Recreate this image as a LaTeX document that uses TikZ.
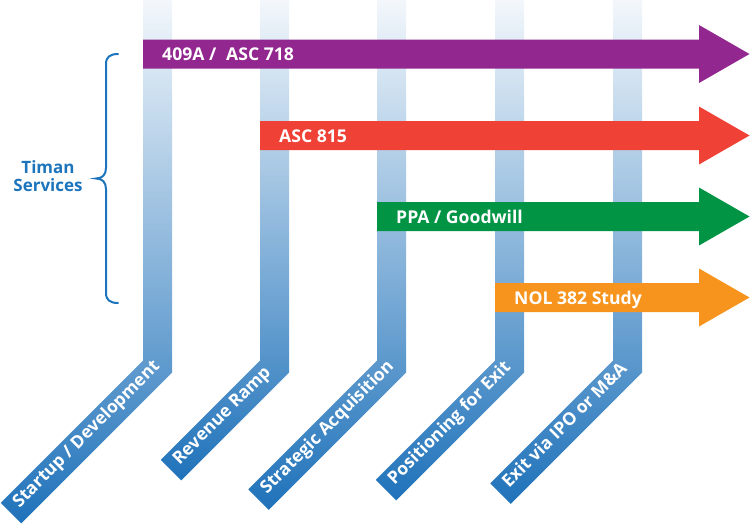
\documentclass[tikz,border=0pt]{standalone}
\usepackage{fontspec}
\setmainfont{Open Sans}
\usetikzlibrary{calc}
\definecolor{cpurple}{HTML}{92278F}
\definecolor{cred}{HTML}{EF4136}
\definecolor{cgreen}{HTML}{009444}
\definecolor{corange}{HTML}{F7941D}
\definecolor{cblue}{HTML}{1C75BC}
\definecolor{ptop}{HTML}{F3F7FB}
\definecolor{pmid}{HTML}{A3C6E5}
\definecolor{pbot}{HTML}{1F72BA}
\tikzset{
  pillarshade/.style={top color=ptop, middle color=pmid, bottom color=pbot},
  steplabel/.style={text=white, font=\fontsize{17.5}{20}\selectfont\bfseries, inner sep=0pt, rotate=45},
  arrowlabel/.style={text=white, font=\fontsize{17.6}{20}\selectfont\bfseries, inner sep=0pt, anchor=base west},
  bracetext/.style={text=cblue, font=\fontsize{17}{20}\selectfont\bfseries, inner sep=0pt, anchor=base},
  bracestyle/.style={draw=cblue, line width=2pt, line cap=round},
}
\newcommand{\pillarstep}[4]{%
  \pgfmathsetmacro{\pilL}{#2-14.5}%
  \pgfmathsetmacro{\pilR}{#2+14.5}%
  \pgfmathsetmacro{\pilEx}{#2-#3}%
  \pgfmathsetmacro{\pilEy}{366.5+#3}%
  \shade[pillarshade] (\pilL,0) -- (\pilL,360.5) -- (\pilEx-10.25,\pilEy-10.25) -- (\pilEx+10.25,\pilEy+10.25) -- (\pilR,372.5) -- (\pilR,0) -- cycle;
  \node[steplabel, anchor=mid west] (#1) at (\pilEx+6.5,\pilEy-6.5) {#4};
}
\newcommand{\bandarrow}[5]{% name, x0, yc, color, label
  \fill[#4] (#2,#3-14.5) -- (699,#3-14.5) -- (699,#3-29) -- (749.5,#3) -- (699,#3+29) -- (699,#3+14.5) -- (#2,#3+14.5) -- cycle;
  \node[arrowlabel] (#1) at (#2+19,#3+6.5) {#5};
}
\begin{document}
\begin{tikzpicture}[x=1pt,y=-1pt]
\useasboundingbox (0,0) rectangle (750,525);
\pillarstep{s1}{157.5}{146.5}{Startup / Development}
\pillarstep{s2}{274.5}{103.5}{Revenue Ramp}
\pillarstep{s3}{391.5}{133}{Strategic Acquisition}
\pillarstep{s4}{509.5}{123.5}{Positioning for Exit}
\pillarstep{s5}{627.5}{127}{Exit via IPO or M\&A}
\bandarrow{a1}{143}{54}{cpurple}{409A /\hspace{0.3em} ASC 718}
\bandarrow{a2}{260}{135.5}{cred}{ASC 815}
\bandarrow{a3}{377}{216.5}{cgreen}{PPA / Goodwill}
\bandarrow{a4}{495}{297.5}{corange}{NOL 382 Study}
\draw[bracestyle] (118,54) .. controls (110,54) and (106,57) .. (106,64) -- (106,168)
  .. controls (106,175) and (102,178.5) .. (96,178.5)
  .. controls (102,178.5) and (106,182) .. (106,189) -- (106,293)
  .. controls (106,300) and (110,303) .. (118,303);
\node[bracetext] (t1) at (48,173) {Timan};
\node[bracetext] (t2) at (48,191) {Services};
\end{tikzpicture}
\end{document}
